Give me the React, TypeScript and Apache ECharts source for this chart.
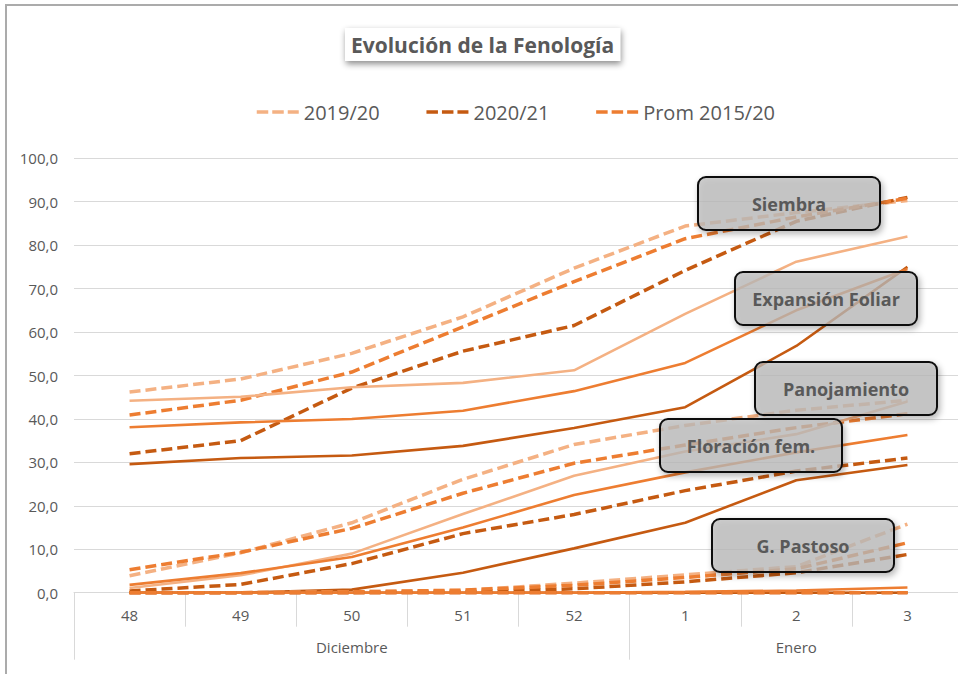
import React, { useEffect, useRef } from "react";
import * as echarts from "echarts";

// ---- categories ----
const weeks = ["48", "49", "50", "51", "52", "1", "2", "3"];
const months = ["Diciembre", "Enero"];
const monthWeekCounts = [5, 3];

// ---- legend / seasons ----
const seasons = ["2019/20", "2020/21", "Prom 2015/20"];
const seasonColors = ["#F4B183", "#C55A11", "#ED7D31"];

// ---- Siembra (dashed) ----
const siembra1920 = [46.2, 49.2, 55.1, 63.5, 74.7, 84.4, 87.5, 90.3];
const siembra2021 = [32.0, 35.0, 47.1, 55.6, 61.5, 74.2, 85.5, 91.0];
const siembraProm = [40.9, 44.3, 50.8, 61.2, 71.6, 81.5, 86.5, 90.8];

// ---- Expansión Foliar (solid) ----
const expFoliar1920 = [44.2, 45.1, 47.3, 48.3, 51.2, 64.2, 76.2, 82.0];
const expFoliar2021 = [29.6, 31.0, 31.6, 33.8, 37.9, 42.7, 56.8, 75.0];
const expFoliarProm = [38.1, 39.2, 40.0, 41.9, 46.4, 52.9, 65.0, 74.5];

// ---- Panojamiento (dashed) ----
const panoj1920 = [3.9, 9.2, 16.1, 26.1, 34.1, 38.5, 42.0, 44.3];
const panoj2021 = [0.4, 1.9, 6.7, 13.6, 18.0, 23.5, 28.0, 31.0];
const panojProm = [5.3, 9.3, 14.8, 22.9, 29.8, 34.0, 38.0, 41.2];

// ---- Floración fem. (solid) ----
const flor1920 = [1.1, 4.0, 9.0, 18.1, 26.9, 32.5, 36.5, 44.0];
const flor2021 = [0.0, 0.0, 0.7, 4.6, 10.2, 16.1, 25.9, 29.4];
const florProm = [1.8, 4.5, 8.2, 15.0, 22.5, 27.7, 32.3, 36.3];

// ---- G. Pastoso (dashed) ----
const pastoso1920 = [0.0, 0.0, 0.2, 0.5, 2.2, 4.1, 6.0, 15.8];
const pastoso2021 = [0.0, 0.0, 0.0, 0.2, 0.9, 2.5, 4.6, 8.8];
const pastosoProm = [0.0, 0.0, 0.2, 0.6, 1.7, 3.5, 5.5, 11.5];

// ---- G. Duro (solid) ----
const duro1920 = [0, 0, 0, 0, 0, 0, 0, 0];
const duro2021 = [0, 0, 0, 0, 0, 0, 0, 0];
const duroProm = [0, 0, 0, 0, 0, 0.2, 0.5, 1.2];

// ---- Madurez (dashed) ----
const madurez1920 = [0, 0, 0, 0, 0, 0, 0, 0];
const madurez2021 = [0, 0, 0, 0, 0, 0, 0, 0];
const madurezProm = [0, 0, 0, 0, 0, 0, 0, 0];

const stages = [
  { name: "Siembra", dashed: true, values: [siembra1920, siembra2021, siembraProm], legend: true },
  { name: "Expansión Foliar", dashed: false, values: [expFoliar1920, expFoliar2021, expFoliarProm], legend: false },
  { name: "Panojamiento", dashed: true, values: [panoj1920, panoj2021, panojProm], legend: false },
  { name: "Floración fem.", dashed: false, values: [flor1920, flor2021, florProm], legend: false },
  { name: "G. Pastoso", dashed: true, values: [pastoso1920, pastoso2021, pastosoProm], legend: false },
  { name: "G. Duro", dashed: false, values: [duro1920, duro2021, duroProm], legend: false },
  { name: "Madurez", dashed: true, values: [madurez1920, madurez2021, madurezProm], legend: false },
];

// annotation labels (placed as callout boxes)
const annotationTexts = ["Siembra", "Expansión Foliar", "Panojamiento", "Floración fem.", "G. Pastoso"];
const annotationPos = [
  [698, 177],
  [735, 272],
  [755, 362],
  [660, 419],
  [712, 519],
];

const FONT = "'Open Sans', 'Noto Sans', sans-serif";
const TEXT = "#595959";
const GRID = "#D9D9D9";

export default function App() {
  const ref = useRef<HTMLDivElement>(null);

  useEffect(() => {
    if (!ref.current) return;
    const chart = echarts.init(ref.current, null, { renderer: "svg" });

    // month grouping on second axis level
    const monthStarts: number[] = [];
    const monthCenter: Record<number, string> = {};
    let s = 0;
    months.forEach((m, i) => {
      monthStarts.push(s);
      monthCenter[s + (monthWeekCounts[i] - 1) / 2] = m;
      s += monthWeekCounts[i];
    });

    const series: any[] = [];
    stages.forEach((st) => {
      st.values.forEach((vals, i) => {
        series.push({
          type: "line",
          name: st.legend ? seasons[i] : `${st.name} ${seasons[i]}`,
          data: vals,
          symbol: "none",
          showSymbol: false,
          silent: true,
          color: seasonColors[i],
          itemStyle: { color: seasonColors[i] },
          lineStyle: {
            color: seasonColors[i],
            width: st.dashed ? 3.5 : 2.6,
            type: st.dashed ? [11, 5] : "solid",
          },
        });
      });
    });

    const graphics: any[] = [
      {
        type: "rect",
        z: -10,
        silent: true,
        shape: { x: 6, y: 5, width: 2000, height: 2000 },
        style: { fill: "none", stroke: "#ABABAB", lineWidth: 2 },
      },
    ];
    annotationTexts.forEach((t, i) => {
      const [x, y] = annotationPos[i];
      graphics.push({
        type: "group",
        x,
        y,
        z: 100,
        silent: true,
        children: [
          {
            type: "rect",
            z: 100,
            shape: { x: 0, y: 0, width: 182, height: 53, r: 8 },
            style: {
              fill: "rgba(188,188,188,0.72)",
              stroke: "#111111",
              lineWidth: 2,
              shadowBlur: 6,
              shadowOffsetX: 2,
              shadowOffsetY: 3,
              shadowColor: "rgba(0,0,0,0.35)",
            },
          },
          {
            type: "text",
            z: 101,
            x: 91,
            y: 27,
            style: {
              text: t,
              fontSize: 18,
              fontWeight: "bold",
              fontFamily: FONT,
              fill: TEXT,
              align: "center",
              verticalAlign: "middle",
              textAlign: "center",
              textVerticalAlign: "middle",
              shadowBlur: 3,
              shadowColor: "rgba(0,0,0,0.3)",
              shadowOffsetX: 1,
              shadowOffsetY: 1,
            },
          },
        ],
      });
    });

    chart.setOption({
      animation: false,
      backgroundColor: "#FFFFFF",
      textStyle: { fontFamily: FONT },
      title: {
        text: "Evolución de la Fenología",
        left: 345,
        top: 28,
        padding: [6, 6, 6, 6],
        backgroundColor: "#FFFFFF",
        shadowBlur: 6,
        shadowColor: "rgba(0,0,0,0.45)",
        shadowOffsetX: 1,
        shadowOffsetY: 3,
        textStyle: { fontSize: 21, fontWeight: "bold", color: TEXT, fontFamily: FONT },
      },
      legend: {
        data: seasons,
        left: 255,
        top: 102,
        padding: 0,
        itemWidth: 42,
        itemHeight: 14,
        itemGap: 45,
        itemStyle: { opacity: 0, borderWidth: 0 },
        lineStyle: { width: 3.5, type: [11.5, 4] },
        textStyle: { fontSize: 20, color: TEXT, fontFamily: FONT },
      },
      grid: { left: 74, right: 0, top: 158.3, bottom: 81.3, containLabel: false },
      xAxis: [
        {
          type: "category",
          data: weeks,
          boundaryGap: true,
          axisLine: { lineStyle: { color: GRID, width: 1 } },
          axisTick: { show: true, length: 34, interval: 0, lineStyle: { color: GRID } },
          axisLabel: { interval: 0, color: TEXT, fontSize: 15, margin: 15, fontFamily: FONT },
          splitLine: { show: false },
        },
        {
          type: "category",
          data: weeks,
          position: "bottom",
          boundaryGap: true,
          axisLine: { show: false },
          axisTick: {
            show: true,
            length: 67,
            interval: (idx: number) => monthStarts.includes(idx),
            lineStyle: { color: GRID },
          },
          axisLabel: {
            interval: 0,
            color: TEXT,
            fontSize: 15,
            margin: 47,
            fontFamily: FONT,
            formatter: (_v: string, idx: number) => monthCenter[idx] ?? "",
          },
          splitLine: { show: false },
        },
      ],
      yAxis: {
        type: "value",
        min: 0,
        max: 100,
        interval: 10,
        axisLine: { show: false },
        axisTick: { show: false },
        axisLabel: {
          color: TEXT,
          fontSize: 15,
          margin: 16,
          fontFamily: FONT,
          formatter: (v: number) => v.toFixed(1).replace(".", ","),
        },
        splitLine: { lineStyle: { color: GRID, width: 1 } },
      },
      series,
      graphic: { elements: graphics },
    });

    return () => chart.dispose();
  }, []);

  return (
    <div
      ref={ref}
      style={{ position: "fixed", left: 0, top: 0, width: 963, height: 674, background: "#fff" }}
    />
  );
}
